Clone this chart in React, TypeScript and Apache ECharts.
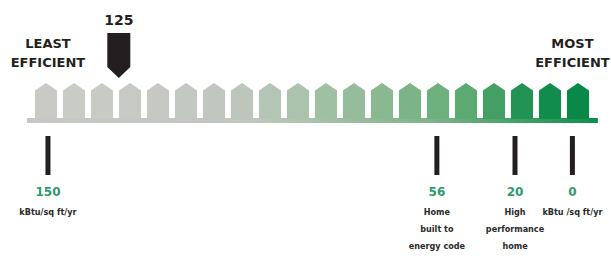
import React, { useEffect, useRef } from "react";
import * as echarts from "echarts";

// ---- data ----
const houseColors = [
  "#c9cac5", "#c9cbc5", "#c8cac4", "#c7cac4", "#c6c9c3",
  "#c4c8c2", "#c1c7c0", "#bcc6bc", "#b4c4b5", "#abc2ad",
  "#a0c0a4", "#95bc9b", "#89b891", "#7cb487", "#6daf7d",
  "#5caa72", "#42a064", "#239354", "#128c4c", "#0a8847",
];
const houses = houseColors.map((_, i) => i);

const scaleValues = [150, 56, 20, 0];
const scalePositions = [0.07, 13.96, 16.75, 18.8];
const scaleNotes = [
  "kBtu/sq ft/yr",
  "Home\nbuilt to\nenergy code",
  "High\nperformance\nhome",
  "kBtu /sq ft/yr",
];

const endLabels = ["LEAST\nEFFICIENT", "MOST\nEFFICIENT"];
const endPositions = [0.07, 18.8];

const currentValue = 125;
const currentPosition = 2.6;

const bandRange = [-0.68, 19.71];

const SMALL_FONT = "'Liberation Sans Narrow', 'DejaVu Sans Condensed', 'DejaVu Sans', sans-serif";
const BOLD_FONT = "'DejaVu Sans', sans-serif";

export default function App() {
  const ref = useRef<HTMLDivElement>(null);
  useEffect(() => {
    if (!ref.current) return;
    const chart = echarts.init(ref.current, undefined, { renderer: "svg" });
    chart.setOption({
      animation: false,
      backgroundColor: "#ffffff",
      grid: { left: 4, right: 5, top: 83, bottom: 137 },
      xAxis: { type: "value", min: -1.5, max: 20, show: false },
      yAxis: { type: "value", min: 0, max: 1, show: false },
      series: [
        {
          type: "custom",
          name: "band",
          data: [[bandRange[0], bandRange[1]]],
          renderItem: (params: any, api: any) => {
            const [x0, y0] = api.coord([api.value(0), 0]);
            const [x1] = api.coord([api.value(1), 0]);
            return {
              type: "rect",
              shape: { x: x0, y: y0 - 1, width: x1 - x0, height: 5 },
              style: {
                fill: new echarts.graphic.LinearGradient(0, 0, 1, 0, [
                  { offset: 0, color: "#c6c8c3" },
                  { offset: 0.4, color: "#bfc7bf" },
                  { offset: 0.7, color: "#7fb58a" },
                  { offset: 1, color: "#0f8d4c" },
                ]),
              },
            };
          },
        },
        {
          type: "custom",
          name: "houses",
          data: houses.map((i) => [i]),
          renderItem: (params: any, api: any) => {
            const i = api.value(0);
            const [cx, by] = api.coord([i, 0]);
            const [, ty] = api.coord([i, 1]);
            const w = api.size([1, 0])[0] * 0.79;
            const sh = ty + 7.5;
            return {
              type: "polygon",
              shape: {
                points: [
                  [cx - w / 2, by],
                  [cx - w / 2, sh],
                  [cx, ty],
                  [cx + w / 2, sh],
                  [cx + w / 2, by],
                ],
              },
              style: { fill: houseColors[i] },
            };
          },
        },
        {
          type: "custom",
          name: "scale",
          data: scalePositions.map((p, i) => [p, scaleValues[i], i]),
          renderItem: (params: any, api: any) => {
            const p = api.value(0);
            const v = api.value(1);
            const idx = api.value(2);
            const [cx, by] = api.coord([p, 0]);
            return {
              type: "group",
              children: [
                {
                  type: "rect",
                  shape: { x: cx - 2.5, y: by + 17, width: 5, height: 39 },
                  style: { fill: "#231f20" },
                },
                {
                  type: "text",
                  x: cx,
                  y: by + 73,
                  style: {
                    text: String(v),
                    fill: "#2f9a6a",
                    font: `bold 12px ${BOLD_FONT}`,
                    align: "center",
                    verticalAlign: "middle",
                  },
                },
                {
                  type: "text",
                  x: cx,
                  y: by + 84,
                  style: {
                    text: scaleNotes[idx],
                    fill: "#2a2a2a",
                    font: `bold 9px ${SMALL_FONT}`,
                    lineHeight: 17,
                    align: "center",
                    verticalAlign: "top",
                  },
                },
              ],
            };
          },
        },
        {
          type: "custom",
          name: "ends",
          data: endPositions.map((p, i) => [p, i]),
          renderItem: (params: any, api: any) => {
            const p = api.value(0);
            const idx = api.value(1);
            const [cx, by] = api.coord([p, 0]);
            return {
              type: "text",
              x: cx,
              y: by - 66,
              style: {
                text: endLabels[idx],
                fill: "#231f20",
                font: `bold 13px ${BOLD_FONT}`,
                lineHeight: 19,
                align: "center",
                verticalAlign: "middle",
              },
            };
          },
        },
        {
          type: "custom",
          name: "current",
          data: [[currentPosition, currentValue]],
          renderItem: (params: any, api: any) => {
            const p = api.value(0);
            const v = api.value(1);
            const [cx, by] = api.coord([p, 0]);
            const top = by - 86;
            const sh = by - 52;
            const tip = by - 41;
            const w = 23;
            return {
              type: "group",
              children: [
                {
                  type: "polygon",
                  shape: {
                    points: [
                      [cx - w / 2, top],
                      [cx + w / 2, top],
                      [cx + w / 2, sh],
                      [cx, tip],
                      [cx - w / 2, sh],
                    ],
                  },
                  style: { fill: "#231f20" },
                },
                {
                  type: "text",
                  x: cx,
                  y: by - 99,
                  style: {
                    text: String(v),
                    fill: "#231f20",
                    font: `bold 14px ${BOLD_FONT}`,
                    align: "center",
                    verticalAlign: "middle",
                  },
                },
              ],
            };
          },
        },
      ],
    });
    return () => chart.dispose();
  }, []);
  return (
    <div
      ref={ref}
      style={{ position: "fixed", left: 0, top: 0, width: 611, height: 256 }}
    />
  );
}
